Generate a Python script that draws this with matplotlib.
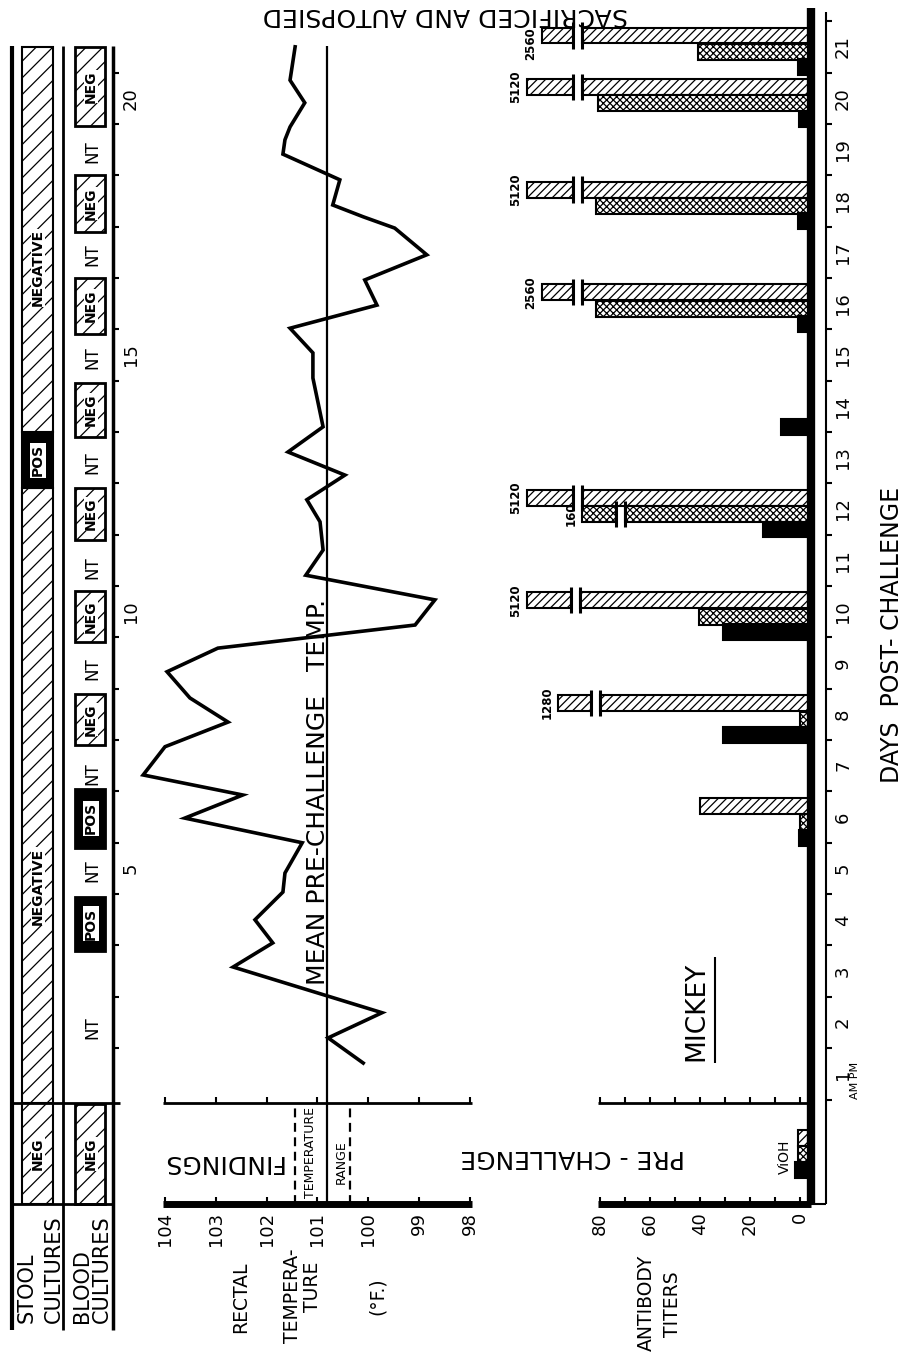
import numpy as np
import matplotlib.pyplot as plt
from matplotlib.patches import Rectangle

plt.rcParams['font.family'] = ['DejaVu Sans']
plt.rcParams['hatch.linewidth'] = 0.9

# ---------------- data ----------------
# rectal temperature (deg F) against days post-challenge
temp_day = [0.71, 1.20, 1.69, 2.58, 3.05, 3.50, 4.04, 4.41, 5.00, 5.48, 5.93, 6.32,
            6.87, 7.35, 7.82, 8.33, 8.79, 9.24, 9.73, 10.21, 10.70, 11.25, 11.68,
            12.16, 12.61, 13.10, 14.05, 14.54, 15.02, 15.47, 15.96, 16.45, 16.97,
            17.19, 17.42, 17.91, 18.41, 18.69, 18.94, 19.41, 19.85, 20.50]
temp_f = [100.10, 100.79, 99.73, 102.66, 101.88, 102.23, 101.68, 101.64, 101.30,
          103.61, 102.47, 104.43, 104.00, 102.76, 103.51, 103.96, 102.96, 99.08,
          98.69, 101.23, 100.89, 100.95, 101.21, 100.46, 101.58, 100.89, 101.09,
          101.09, 101.54, 99.83, 100.07, 98.85, 99.48, 100.10, 100.70, 100.56,
          101.68, 101.64, 101.54, 101.25, 101.54, 101.44]
mean_temp = 100.81
range_low, range_high = 100.36, 101.44
temp_ticks = [104, 103, 102, 101, 100, 99, 98]

# stool cultures (start day, end day, result); first box is pre-challenge
stool_start = [-2.03, -0.07, 11.9, 13.0]
stool_end = [-0.07, 11.9, 13.0, 20.5]
stool_result = ['NEG', 'NEGATIVE', 'POS', 'NEGATIVE']
stool_label_day = [-1.05, 4.15, 12.45, 16.2]

# blood cultures
blood_start = [-2.03, 2.9, 4.9, 6.9, 8.9, 10.9, 12.9, 14.9, 16.9, 18.95]
blood_end = [-0.09, 3.95, 6.05, 7.9, 9.9, 11.9, 13.95, 16.0, 18.0, 20.5]
blood_result = ['NEG', 'POS', 'POS', 'NEG', 'NEG', 'NEG', 'NEG', 'NEG', 'NEG', 'NEG']
nt_day = [1.4, 4.45, 6.35, 8.4, 10.35, 12.4, 14.45, 16.45, 18.45]

# antibody titers by sampling day (hatched / stippled / black bars)
ab_days = [6, 8, 10, 12, 14, 16, 18, 20, 21]
hatch_len = [40, 96.8, 109.2, 109.2, np.nan, 103.2, 109.2, 109.2, 103.2]
hatch_label = ['', '1280', '5120', '5120', '', '2560', '5120', '5120', '2560']
hatch_break = [np.nan, 80, 88, 87.2, np.nan, 87.2, 87.2, 87.2, 87.2]
stip_len = [0, 0, 40.5, 87.2, np.nan, 81.5, 81.5, 81, 41]
stip_label = ['', '', '', '160', '', '', '', '', '']
stip_break = [np.nan, np.nan, np.nan, 70, np.nan, np.nan, np.nan, np.nan, np.nan]
black_len = [0.5, 31, 31, 15, 7.6, 1, 1, 0.5, 1]
ab_ticks = [80, 60, 40, 20, 0]
# pre-challenge ViOH
pre_day = -0.47
pre_hatch, pre_stip, pre_black = 1, 1, 2

# ---------------- layout ----------------
W, H = 906, 1361
DAY_TOP, DAY_BOTTOM = 1099.5 / 51.35, (1099.5 - H) / 51.35
PRE = -0.07          # challenge line
PRE_BOT = -2.03      # bottom of pre-challenge strip
TOP = 20.52
LABEL_ROW = -2.19
BASE = -4.4          # antibody bar origin (thick day axis)
BAR_H = 0.31
GAP = 3.6
k = dict(color='black', solid_capstyle='butt')

fig = plt.figure(figsize=(W / 100, H / 100), dpi=100)


def px_axes(x0, x1, xlim):
    ax = fig.add_axes([x0 / W, 0, (x1 - x0) / W, 1])
    ax.set_xlim(*xlim)
    ax.set_ylim(DAY_BOTTOM, DAY_TOP)
    ax.axis('off')
    return ax


def ftext(x, y, s, **kw):
    kw.setdefault('ha', 'center')
    kw.setdefault('va', 'center')
    fig.text(x / W, 1 - y / H, s, **kw)


ax_c = px_axes(0, 140, (0, 140))
ax_t = px_axes(140, 500, (104.492, 97.409))
ax_a = px_axes(500, 906, (120, -42.4))

# ---- culture strips ----
for x, lw in [(12, 3), (63, 2), (113, 2.5)]:
    ax_c.plot([x, x], [-4.49, TOP], lw=lw, **k)
ax_c.plot([10, 120], [PRE, PRE], lw=2, **k)
ax_c.plot([12, 113], [PRE_BOT, PRE_BOT], lw=2, **k)
for d in range(1, 21):
    ax_c.plot([113, 119], [d, d], lw=1.5, **k)
for n in [5, 10, 15, 20]:
    ax_c.text(131, n - 0.5, str(n), rotation=90, ha='center', va='center', fontsize=13)

for s, e, r, ld in zip(stool_start, stool_end, stool_result, stool_label_day):
    if r == 'POS':
        ax_c.add_patch(Rectangle((22, s), 31, e - s, facecolor='black', edgecolor='black', lw=1.5))
        ax_c.text(38, ld, r, rotation=90, ha='center', va='center', fontsize=10, fontweight='bold',
                  bbox=dict(fc='white', ec='none', pad=1))
    else:
        ax_c.add_patch(Rectangle((22, s), 31, e - s, facecolor='white', edgecolor='black', hatch='//', lw=1.5))
        ax_c.text(38, ld, r, rotation=90, ha='center', va='center', fontsize=10, fontweight='bold',
                  bbox=dict(fc='white', ec='none', pad=0.3))

for s, e, r in zip(blood_start, blood_end, blood_result):
    if r == 'POS':
        ax_c.add_patch(Rectangle((75, s), 30, e - s, facecolor='black', edgecolor='black', lw=2))
        ax_c.text(91, (s + e) / 2, r, rotation=90, ha='center', va='center', fontsize=10,
                  fontweight='bold', bbox=dict(fc='white', ec='none', pad=1))
    else:
        ax_c.add_patch(Rectangle((75, s), 30, e - s, facecolor='white', edgecolor='black', hatch='//', lw=2))
        ax_c.text(91, (s + e) / 2, r, rotation=90, ha='center', va='center', fontsize=10,
                  fontweight='bold', bbox=dict(fc='white', ec='none', pad=0.3))
for d in nt_day:
    ax_c.text(92, d, 'NT', rotation=90, ha='center', va='center', fontsize=12)

ftext(27, 1323, 'STOOL', rotation=90, va='bottom', fontsize=15)
ftext(54, 1323, 'CULTURES', rotation=90, va='bottom', fontsize=15)
ftext(82, 1323, 'BLOOD', rotation=90, va='bottom', fontsize=15)
ftext(102, 1323, 'CULTURES', rotation=90, va='bottom', fontsize=15)

# ---- temperature panel ----
ax_t.plot([mean_temp, mean_temp], [PRE_BOT, TOP], lw=1.6, **k)
for r in [range_low, range_high]:
    ax_t.plot([r, r], [PRE_BOT, PRE], lw=1.6, ls=(0, (4, 2.5)), color='black')
ax_t.plot([104.04, 97.96], [PRE, PRE], lw=2, **k)
ax_t.plot([104.04, 97.96], [PRE_BOT, PRE_BOT], lw=5, **k)
for tv in temp_ticks:
    ax_t.plot([tv, tv], [PRE, PRE + 0.12], lw=1.5, **k)
    ax_t.plot([tv, tv], [PRE_BOT, PRE_BOT + 0.14], lw=1.5, **k)
    ax_t.text(tv, LABEL_ROW, str(tv), rotation=90, ha='center', va='top', fontsize=13)
ax_t.plot(temp_f, temp_day, lw=2.6, color='black', solid_joinstyle='miter')

ftext(318, 792, 'MEAN PRE-CHALLENGE   TEMP.', rotation=90, fontsize=18)
ftext(311, 1152, 'TEMPERATURE', rotation=90, fontsize=9)
ftext(341, 1162, 'RANGE', rotation=90, fontsize=9)
ftext(222, 1162, 'FINDINGS', rotation=180, fontsize=18)
ftext(241, 1297, 'RECTAL', rotation=90, fontsize=13.5)
ftext(293, 1296, 'TEMPERA-', rotation=90, fontsize=13.5)
ftext(313, 1287, 'TURE', rotation=90, fontsize=13.5)
ftext(377, 1296, '(°F.)', rotation=90, fontsize=13.5)

# ---- antibody panel ----
ax_a.plot([BASE, BASE], [PRE_BOT, 21.26], lw=6, **k)
ax_a.plot([-10.4, -10.4], [PRE_BOT, 21.18], lw=1.5, **k)
ax_a.plot([BASE, -10.4], [PRE_BOT, PRE_BOT], lw=1.5, **k)
for d in range(0, 22):
    ax_a.plot([-10.4, -12.8], [d, d], lw=1.5, **k)
for n in range(1, 22):
    ax_a.text(-17.2, n - 0.5, str(n), rotation=90, ha='center', va='center', fontsize=13)
ax_a.plot([80.8, BASE], [PRE, PRE], lw=2, **k)
ax_a.plot([80.8, BASE], [PRE_BOT, PRE_BOT], lw=5, **k)
for v in range(0, 90, 10):
    ax_a.plot([v, v], [PRE, PRE + 0.12], lw=1.5, **k)
    ax_a.plot([v, v], [PRE_BOT, PRE_BOT + 0.14], lw=1.5, **k)
for v in ab_ticks:
    ax_a.text(v, LABEL_ROW, str(v), rotation=90, ha='center', va='top', fontsize=13)

styles = {
    'hatch': dict(facecolor='white', edgecolor='black', hatch='////', lw=1.5),
    'stip': dict(facecolor='white', edgecolor='black', hatch='xxxxx', lw=1.5),
    'black': dict(facecolor='black', edgecolor='black', lw=1.5),
}
offsets = {'hatch': -0.28, 'stip': -0.6, 'black': -0.9}


def draw_bar(kind, y, length, brk=np.nan, label='', label_dy=0.0):
    if np.isnan(length):
        return
    st = styles[kind]
    if np.isnan(brk):
        ax_a.barh(y, length - BASE, left=BASE, height=BAR_H, **st)
    else:
        ax_a.barh(y, brk - BASE, left=BASE, height=BAR_H, **st)
        ax_a.barh(y, length - brk - GAP, left=brk + GAP, height=BAR_H, **st)
        for b in [brk, brk + GAP]:
            ax_a.plot([b, b], [y - BAR_H / 2 - 0.1, y + BAR_H / 2 + 0.1], lw=2.2, **k)
    if label:
        ax_a.text(length + 1.8, y + label_dy, label, rotation=90, ha='right', va='center',
                  fontsize=8.5, fontweight='bold')


for i, d in enumerate(ab_days):
    # the last label sits a little lower, clear of the heading
    dy = -0.16 if d == ab_days[-1] else 0.0
    draw_bar('hatch', d + offsets['hatch'], hatch_len[i], hatch_break[i], hatch_label[i], dy)
    draw_bar('stip', d + offsets['stip'], stip_len[i], stip_break[i], stip_label[i])
    draw_bar('black', d + offsets['black'], black_len[i])
draw_bar('hatch', pre_day + offsets['hatch'], pre_hatch)
draw_bar('stip', pre_day + offsets['stip'], pre_stip)
draw_bar('black', pre_day + offsets['black'], pre_black)

ax_a.plot([34, 34], [0.71, 2.78], lw=1.5, **k)
ftext(696, 1011, 'MICKEY', rotation=90, fontsize=19)
ftext(573, 1157, 'PRE - CHALLENGE', rotation=180, fontsize=18)
ftext(785, 1157, 'ViOH', rotation=90, fontsize=10)
ftext(646, 1303, 'ANTIBODY', rotation=90, fontsize=13.5)
ftext(672, 1304, 'TITERS', rotation=90, fontsize=13.5)
ftext(892, 635, 'DAYS  POST- CHALLENGE', rotation=90, fontsize=17)
ftext(855, 1080, 'AM PM', rotation=90, fontsize=8)
ftext(445, 15, 'SACRIFICED AND AUTOPSIED', rotation=180, fontsize=18)

fig.savefig('out.png', dpi=100)
